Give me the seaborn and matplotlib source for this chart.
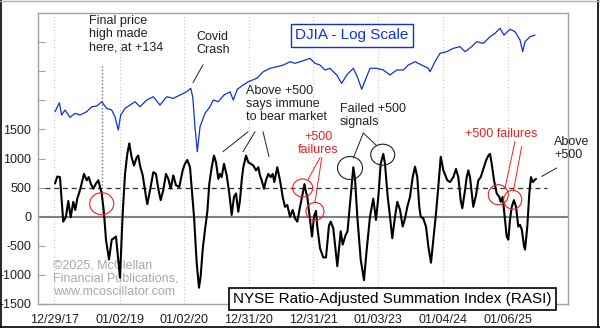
import matplotlib
matplotlib.use("Agg")
import matplotlib.pyplot as plt
from matplotlib.patches import Ellipse
from matplotlib.lines import Line2D
from matplotlib.ticker import NullLocator
import pandas as pd
import seaborn as sns

# ---------------- data ----------------
RASI_YEAR = [
    2018.000, 2018.036, 2018.077, 2018.128, 2018.170, 2018.206, 2018.243, 2018.283, 2018.314, 2018.345,
    2018.387, 2018.449, 2018.491, 2018.522, 2018.553, 2018.593, 2018.635, 2018.670, 2018.697, 2018.723,
    2018.759, 2018.789, 2018.836, 2018.878, 2018.913, 2018.944, 2018.964, 2019.006, 2019.048, 2019.084,
    2019.119, 2019.150, 2019.187, 2019.223, 2019.265, 2019.289, 2019.316, 2019.358, 2019.409, 2019.429,
    2019.471, 2019.522, 2019.563, 2019.599, 2019.636, 2019.676, 2019.718, 2019.754, 2019.791, 2019.831,
    2019.873, 2019.924, 2019.977, 2020.012, 2020.048, 2020.090, 2020.115, 2020.152, 2020.193, 2020.229,
    2020.255, 2020.286, 2020.322, 2020.358, 2020.389, 2020.426, 2020.461, 2020.492, 2020.528, 2020.554,
    2020.580, 2020.616, 2020.658, 2020.698, 2020.735, 2020.771, 2020.802, 2020.837, 2020.864, 2020.890,
    2020.915, 2020.957, 2020.992, 2021.029, 2021.070, 2021.111, 2021.147, 2021.173, 2021.200, 2021.235,
    2021.266, 2021.302, 2021.339, 2021.370, 2021.395, 2021.441, 2021.483, 2021.525, 2021.560, 2021.596,
    2021.638, 2021.680, 2021.715, 2021.751, 2021.793, 2021.824, 2021.862, 2021.885, 2021.906, 2021.947,
    2021.978, 2022.009, 2022.040, 2022.060, 2022.102, 2022.153, 2022.195, 2022.241, 2022.268, 2022.308,
    2022.370, 2022.423, 2022.453, 2022.497, 2022.528, 2022.577, 2022.618, 2022.644, 2022.680, 2022.732,
    2022.783, 2022.825, 2022.876, 2022.927, 2022.969, 2023.005, 2023.042, 2023.082, 2023.108, 2023.150,
    2023.186, 2023.221, 2023.263, 2023.299, 2023.341, 2023.382, 2023.418, 2023.454, 2023.495, 2023.537,
    2023.573, 2023.608, 2023.639, 2023.661, 2023.701, 2023.743, 2023.779, 2023.820, 2023.856, 2023.898,
    2023.933, 2023.971, 2024.011, 2024.053, 2024.073, 2024.115, 2024.166, 2024.207, 2024.243, 2024.280,
    2024.305, 2024.347, 2024.373, 2024.398, 2024.424, 2024.475, 2024.517, 2024.553, 2024.590, 2024.630,
    2024.672, 2024.708, 2024.734, 2024.760, 2024.796, 2024.837, 2024.878, 2024.899, 2024.930, 2024.966,
    2024.992, 2025.017, 2025.043, 2025.070, 2025.105, 2025.136, 2025.172, 2025.198, 2025.226, 2025.261,
    2025.276, 2025.311, 2025.342, 2025.368, 2025.395, 2025.420, 2025.446,
]
RASI = [
    570, 690, 680, -85, 0, 270, -10, 255, 115, 310,
    455, 735, 625, 680, 570, 480, 570, 625, 510, 400,
    60, -395, -735, -395, -370, -340, -565, -1050, 60, 735,
    1080, 1260, 1020, 880, 1020, 1050, 880, 710, 340, 215,
    455, 765, 735, 480, 285, 455, 735, 650, 480, 710,
    540, 510, 800, 910, 975, 850, 510, 0, -790, -1220,
    -1020, -565, -225, 85, 570, 850, 1050, 935, 650, 735,
    680, 910, 710, 400, 30, 340, 400, 85, 285, 625,
    850, 1050, 935, 910, 880, 795, 850, 710, 625, 480,
    625, 735, 680, 735, 595, 850, 625, 340, 170, 200,
    0, 115, -30, -85, 170, 340, 560, 425, 340, -55,
    -340, 0, 100, -170, -540, -700, -700, -150, -85, -200,
    -850, -250, -480, -320, -250, 340, 850, 650, 0, -735,
    -1090, -565, 0, 310, -55, 340, 910, 1080, 910, 340,
    0, -370, 0, 255, 115, -170, -30, 170, 340, 680,
    860, 680, 170, 0, -30, -170, -510, -790, -395, 60,
    510, 1030, 800, 680, 625, 595, 680, 820, 680, 285,
    145, 455, 680, 795, 680, 170, 370, 625, 680, 820,
    965, 1050, 1080, 910, 625, 400, 340, 255, 340, -55,
    -340, -395, -55, 170, 285, 170, -170, -140, -225, -510,
    -565, -170, 400, 680, 595, 625, 650,
]

DJIA_YEAR = [
    2018.000, 2018.067, 2018.104, 2018.155, 2018.232, 2018.310, 2018.387, 2018.491, 2018.568, 2018.646,
    2018.723, 2018.800, 2018.878, 2018.929, 2018.980, 2019.017, 2019.084, 2019.161, 2019.238, 2019.316,
    2019.419, 2019.522, 2019.625, 2019.729, 2019.831, 2019.935, 2020.039, 2020.101, 2020.132, 2020.167,
    2020.203, 2020.245, 2020.322, 2020.399, 2020.450, 2020.528, 2020.616, 2020.709, 2020.760, 2020.822,
    2020.890, 2020.992, 2021.122, 2021.224, 2021.328, 2021.432, 2021.534, 2021.638, 2021.715, 2021.793,
    2021.870, 2021.947, 2022.025, 2022.102, 2022.180, 2022.257, 2022.361, 2022.438, 2022.515, 2022.618,
    2022.680, 2022.748, 2022.814, 2022.876, 2022.980, 2023.082, 2023.186, 2023.289, 2023.392, 2023.469,
    2023.573, 2023.676, 2023.779, 2023.805, 2023.882, 2023.960, 2024.063, 2024.166, 2024.269, 2024.347,
    2024.450, 2024.528, 2024.630, 2024.734, 2024.811, 2024.889, 2024.950, 2025.043, 2025.121, 2025.198,
    2025.240, 2025.276, 2025.353, 2025.430,
]
DJIA = [
    24480, 26110, 23900, 24780, 23510, 24200, 23900, 24480, 25370, 25500,
    26310, 25080, 24780, 23610, 21460, 23900, 25080, 25680, 26310, 25370,
    26630, 27270, 25680, 27270, 26950, 27610, 28260, 28970, 27270, 21980,
    18360, 21980, 24200, 25370, 26630, 26310, 27610, 28260, 26630, 28770,
    29450, 30380, 31130, 32640, 33450, 33830, 34250, 35070, 34680, 35070,
    35500, 35930, 34680, 34250, 33050, 33450, 31880, 30020, 31880, 33450,
    31480, 28770, 31130, 33450, 33450, 33050, 31880, 33050, 33050, 34250,
    35070, 34250, 33450, 32640, 35070, 37270, 37700, 38630, 39090, 37700,
    39090, 40520, 40030, 41990, 43040, 44620, 42490, 44300, 43530, 41020,
    37700, 40520, 41990, 42490,
]

TICK_YEARS = [2017.990, 2019.003, 2020.003, 2020.997, 2021.997, 2023.005, 2024.008, 2025.013]
TICK_LABELS = ["12/29/17", "01/02/19", "01/02/20", "12/31/20", "12/31/21", "01/03/23", "01/04/24", "01/06/25"]
Y_TICKS = [-1500, -1000, -500, 0, 500, 1000, 1500, 2000, 2500, 3000]
Y_LABELS = ["-1500", "-1000", "-500", "0", "500", "1000", "1500", "", "", ""]

# ---------------- style ----------------
sns.set_style("white")
plt.rcParams["font.family"] = ["Liberation Sans", "DejaVu Sans"]

W, H = 600, 328
fig = plt.figure(figsize=(W / 100, H / 100), dpi=100)
ax = fig.add_axes([38 / W, 1 - 304 / H, 530 / W, 291 / H])

XMIN, XMAX = 2017.737, 2025.941

# RASI
rasi_df = pd.DataFrame({"year": RASI_YEAR, "rasi": RASI})
sns.lineplot(data=rasi_df, x="year", y="rasi", ax=ax, color="black", lw=1.5, zorder=5)

ax.set_xlim(XMIN, XMAX)
ax.set_ylim(-1500, 3500)
ax.set_xticks(TICK_YEARS)
ax.set_xticklabels(TICK_LABELS)
ax.set_yticks(Y_TICKS)
ax.set_yticklabels(Y_LABELS)
ax.set_xlabel("")
ax.set_ylabel("")
ax.tick_params(axis="y", direction="in", length=5, color="#a0a0a0", labelsize=9, pad=5, labelcolor="#202020")
ax.tick_params(axis="x", length=0, labelsize=9, pad=7, labelcolor="#202020")
ax.grid(axis="x", color="#c8c8c8", ls=(0, (1, 2)), lw=0.8)
ax.grid(axis="y", visible=False)
for s in ax.spines.values():
    s.set_color("#a0a0a0")
    s.set_linewidth(1)

ax.axhline(0, color="#808080", lw=1.5, zorder=2)
ax.hlines(500, 2017.845, 2025.616, colors="#303030", lw=0.9, linestyles=(0, (4, 3)), zorder=2)

# DJIA on log twin axis
ax2 = ax.twinx()
ax2.set_yscale("log")
dj_df = pd.DataFrame({"year": DJIA_YEAR, "djia": DJIA})
sns.lineplot(data=dj_df, x="year", y="djia", ax=ax2, color="#1030d8", lw=0.9)
ax2.set_ylim(6140, 49800)
ax2.set_xlim(XMIN, XMAX)
ax2.yaxis.set_major_locator(NullLocator())
ax2.yaxis.set_minor_locator(NullLocator())
ax2.set_ylabel("")
ax2.set_xlabel("")
for s in ax2.spines.values():
    s.set_visible(False)

# ---------------- annotations ----------------
fs = 9
ax.vlines(2018.727, 70, 2610, colors="#707070", lw=1, linestyles=(0, (1, 1.5)), zorder=3)
ax.text(2018.526, 3470, "Final price\nhigh made\nhere, at +134", fontsize=fs, va="top", ha="left",
        color="#202020", linespacing=1.15)
ax.text(2020.183, 3196, "Covid\nCrash", fontsize=fs, va="top", ha="left", color="#202020", linespacing=1.15)
ax.plot([2020.136, 2020.291], [2302, 2611], color="#202020", lw=0.7)

ax.text(2020.957, 2268, "Above +500\nsays immune\nto bear market", fontsize=fs, va="top", ha="left",
        color="#202020", linespacing=1.15)
for (x0, y0, x1, y1) in [(2020.988, 1460, 2020.601, 1117), (2021.096, 1460, 2020.910, 1117),
                         (2021.220, 1460, 2021.313, 1031)]:
    ax.plot([x0, x1], [y0, y1], color="#202020", lw=0.7)

red = "#f02020"
ax.text(2022.071, 1477, "+500\nfailures", fontsize=fs, va="top", ha="center", color=red, linespacing=1.15)
ax.plot([2022.102, 2021.916], [1014, 636], color=red, lw=0.7)
ax.plot([2022.129, 2022.025], [1014, 246], color=red, lw=0.7)

ax.text(2022.412, 1959, "Failed +500\nsignals", fontsize=fs, va="top", ha="left", color="#202020",
        linespacing=1.15)
ax.plot([2022.772, 2022.618], [1438, 1008], color="#202020", lw=0.7)
ax.plot([2022.772, 2022.980], [1438, 1220], color="#202020", lw=0.7)

ax.text(2024.347, 1529, "+500 failures", fontsize=fs, va="top", ha="left", color=red)
ax.plot([2025.121, 2024.966], [1294, 493], color=red, lw=0.7)
ax.plot([2025.224, 2025.095], [1208, 435], color=red, lw=0.7)

ax.text(2025.725, 1392, "Above\n+500", fontsize=fs, va="top", ha="left", color="#202020", linespacing=1.15)
ax.plot([2025.766, 2025.534], [837, 692], color="#202020", lw=0.7)

for (cx, cy, w, h, c) in [(2018.723, 223, 0.372, 378, red), (2021.834, 493, 0.310, 309, red),
                          (2022.025, 91, 0.279, 309, red), (2022.567, 837, 0.387, 395, "#202020"),
                          (2023.073, 1065, 0.372, 361, "#202020"), (2024.862, 378, 0.310, 344, red),
                          (2025.085, 292, 0.279, 326, red)]:
    ax.add_patch(Ellipse((cx, cy), w, h, fill=False, ec=c, lw=0.8, zorder=6))

ax.text(2017.974, -739, "\u00a92025, McClellan\nFinancial Publications,\nwww.mcoscillator.com", fontsize=fs,
        va="top", ha="left", color="#a8a8a8", linespacing=1.1, zorder=1)

ax.text(2022.598, 3118, "DJIA - Log Scale", fontsize=11, va="center", ha="center", color="#1030d8",
        bbox=dict(boxstyle="square,pad=0.3", fc="white", ec="#1030d8", lw=1), zorder=7)
ax.text(2023.224, -1409, "NYSE Ratio-Adjusted Summation Index (RASI)", fontsize=11, va="center",
        ha="center", color="black", clip_on=False,
        bbox=dict(boxstyle="square,pad=0.25", fc="white", ec="black", lw=1.2), zorder=7)

# outer frame
fig.add_artist(Line2D([0.5 / W, 0.5 / W], [0, 1], color="black", lw=1.2, transform=fig.transFigure))
fig.add_artist(Line2D([1 - 2 / W, 1 - 2 / W], [0, 1], color="black", lw=1.2, transform=fig.transFigure))
fig.add_artist(Line2D([0, 1], [1.5 / H, 1.5 / H], color="black", lw=1.2, transform=fig.transFigure))
fig.add_artist(Line2D([0, 1], [1 - 0.5 / H, 1 - 0.5 / H], color="#b0b0b0", lw=1, transform=fig.transFigure))

fig.savefig("out.png", dpi=100)
